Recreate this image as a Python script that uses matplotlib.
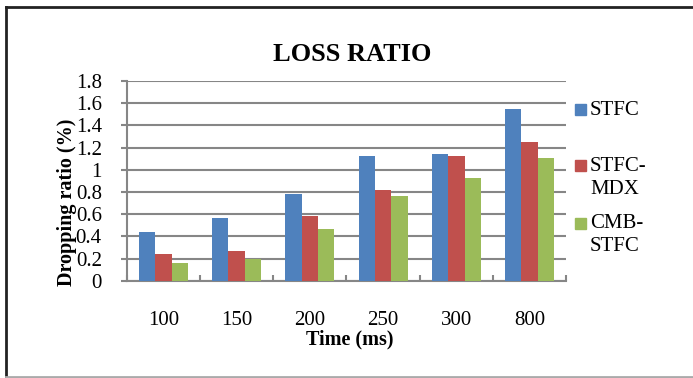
import matplotlib.pyplot as plt
import numpy as np
from matplotlib.lines import Line2D
from matplotlib.patches import Rectangle

plt.rcParams['font.family'] = ['Liberation Serif', 'DejaVu Serif']

## loss ratio per scheme at each time setting
times = ['100', '150', '200', '250', '300', '800']
series = ['STFC', 'STFC-\nMDX', 'CMB-\nSTFC']
stfc = [0.44, 0.57, 0.78, 1.12, 1.14, 1.55]
stfc_mdx = [0.24, 0.27, 0.58, 0.82, 1.12, 1.25]
cmb_stfc = [0.16, 0.20, 0.47, 0.76, 0.93, 1.11]
colors = ['#4f81bd', '#c0504d', '#9bbb59']

fig = plt.figure(figsize=(6.93, 3.78), dpi=100)
ax = fig.add_axes([0.183, 0.257, 0.634, 0.529])

x = np.arange(len(times))
w = 0.223
for i, (vals, lab, col) in enumerate(zip([stfc, stfc_mdx, cmb_stfc], series, colors)):
    ax.bar(x + (i - 1) * w, vals, w, color=col, label=lab, zorder=3)

ax.set_xlim(-0.5, len(times) - 0.5)
ax.set_ylim(0, 1.8)
ax.set_yticks(np.arange(0, 1.81, 0.2))
ax.set_yticklabels(['0', '0.2', '0.4', '0.6', '0.8', '1', '1.2', '1.4', '1.6', '1.8'])
ax.yaxis.grid(True, color='#868686', lw=1.5, zorder=0)
ax.set_xticks(x)
ax.set_xticklabels(times)
ax.set_xticks(np.arange(-0.5, len(times)), minor=True)
ax.tick_params(axis='x', which='major', length=0, pad=22, labelsize=15)
ax.tick_params(axis='x', which='minor', length=4, direction='in', color='#868686', width=1.5)
ax.tick_params(axis='y', length=4.5, color='#868686', width=1.5, labelsize=15, pad=13.5)
for s in ['top', 'right']:
    ax.spines[s].set_visible(False)
for s in ['left', 'bottom']:
    ax.spines[s].set_color('#868686')
    ax.spines[s].set_linewidth(1.5)

fig.text(0.508, 0.857, 'LOSS RATIO', ha='center', va='center',
         fontsize=19, fontweight='bold')
fig.text(0.505, 0.103, 'Time (ms)', ha='center', va='center',
         fontsize=14.5, fontweight='bold')
fig.text(0.096, 0.464, 'Dropping ratio (%)', ha='center', va='center',
         rotation=90, fontsize=14.5, fontweight='bold')

# legend: square key aligned with the first line of each label
legend_y = [110, 166, 223]
for lab, col, yp in zip(series, colors, legend_y):
    yf = 1 - yp / 378
    fig.patches.append(Rectangle((575 / 693, yf - 5.5 / 378), 11 / 693, 11 / 378,
                                 transform=fig.transFigure, color=col))
    fig.text(590 / 693, yf + 9 / 378, lab, ha='left', va='top', fontsize=15,
             linespacing=1.3)

# outer frame: dark top and left edges, light bottom edge
fig.add_artist(Line2D([0.008, 1.0], [0.981, 0.981], color='#222222', lw=2))
fig.add_artist(Line2D([0.008, 0.008], [0.981, 0.003], color='#222222', lw=2))
fig.add_artist(Line2D([0.008, 1.0], [0.003, 0.003], color='#aaaaaa', lw=2))

fig.savefig('out.png', dpi=100)
